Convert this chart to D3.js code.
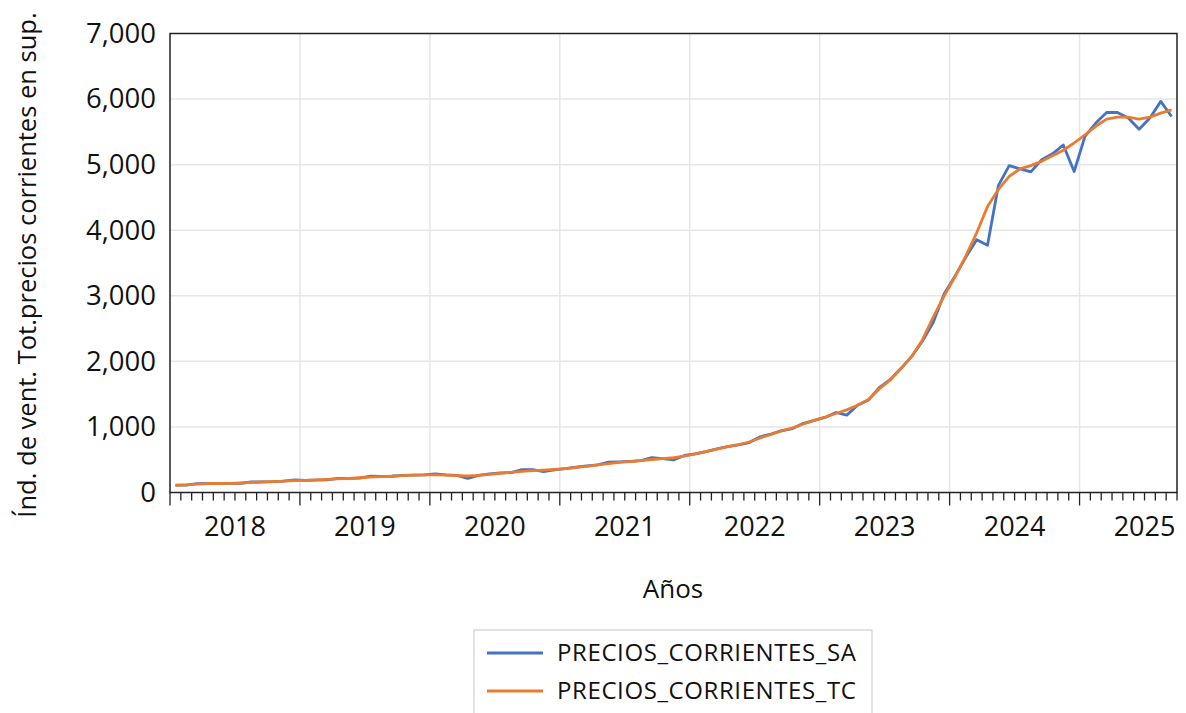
<!DOCTYPE html>
<html>
<head>
<meta charset="utf-8">
<script src="https://cdn.jsdelivr.net/npm/d3@7"></script>
<style>
  html, body { margin: 0; padding: 0; background: #fff; }
  svg { display: block; font-family: "Open Sans", "Noto Sans", sans-serif; }
</style>
</head>
<body>
<svg id="chart" width="1186" height="713"></svg>
<script>
// Monthly observations 2018M01 .. 2025M09
const startYear = 2018;
const startMonth = 1;
const seriesNames = ["PRECIOS_CORRIENTES_SA", "PRECIOS_CORRIENTES_TC"];
const seriesSA = [
  112, 113, 135, 136, 137, 138, 140, 160, 162, 165, 174, 192,
  184, 188, 192, 214, 215, 218, 250, 246, 248, 262, 266, 268,
  282, 268, 262, 216, 262, 285, 298, 303, 348, 350, 318, 345,
  365, 385, 405, 420, 462, 468, 475, 485, 532, 515, 496, 565,
  590, 625, 665, 700, 728, 762, 850, 890, 945, 975, 1055, 1100,
  1145, 1220, 1180, 1330, 1410, 1600, 1720, 1890, 2075, 2310, 2600, 3030,
  3300, 3590, 3855, 3770, 4680, 4985, 4935, 4890, 5075, 5165, 5300, 4895,
  5430, 5635, 5795, 5795, 5710, 5540, 5710, 5965, 5735
];
const seriesTC = [
  110, 115, 128, 135, 137, 139, 145, 153, 160, 166, 174, 180,
  186, 192, 200, 208, 215, 225, 235, 243, 250, 258, 264, 268,
  270, 266, 258, 252, 262, 278, 293, 308, 322, 335, 342, 352,
  365, 382, 400, 420, 440, 458, 472, 487, 503, 518, 530, 555,
  590, 625, 660, 700, 730, 770, 832, 885, 938, 985, 1045, 1100,
  1150, 1205, 1260, 1330, 1420, 1580, 1715, 1890, 2075, 2330, 2680, 3000,
  3290, 3610, 3960, 4360, 4620, 4820, 4935, 4985, 5050, 5135, 5220, 5330,
  5455, 5585, 5695, 5725, 5725, 5695, 5725, 5785, 5835
];
const yTicks = [0, 1000, 2000, 3000, 4000, 5000, 6000, 7000];
const yearLabels = ["2018", "2019", "2020", "2021", "2022", "2023", "2024", "2025"];
const colors = ["#4472c4", "#e97c30"];
const yTitle = "Índ. de vent. Tot.precios corrientes en sup.";
const xTitle = "Años";

(function () {
const n = seriesSA.length;
const svg = d3.select("#chart");
const pL = 170, pR = 1177, pT = 33.5, pB = 492.5;

// x scale in "month index" units: period i spans [i, i+1], observation at its centre
const x = d3.scaleLinear().domain([0, n]).range([pL, pR]);
const y = d3.scaleLinear().domain([0, 7000]).range([pB, pT]);

// gridlines
const grid = svg.append("g");
grid.selectAll("line.h").data(yTicks.slice(1, -1)).join("line")
  .attr("x1", pL).attr("x2", pR)
  .attr("y1", d => y(d)).attr("y2", d => y(d))
  .attr("stroke", "#e6e6e6").attr("stroke-width", 1.5);
const yearStarts = d3.range(1, yearLabels.length).map(k => k * 12);
grid.selectAll("line.v").data(yearStarts).join("line")
  .attr("x1", d => x(d)).attr("x2", d => x(d))
  .attr("y1", pT).attr("y2", pB)
  .attr("stroke", "#e6e6e6").attr("stroke-width", 1.5);

// lines
const idx = d3.range(n);
const lineGen = vals => d3.line().x(i => x(i + 0.5)).y(i => y(vals[i]))(idx);
[seriesSA, seriesTC].forEach((vals, k) => {
  svg.append("path").attr("d", lineGen(vals))
    .attr("fill", "none").attr("stroke", colors[k])
    .attr("stroke-width", 2.8).attr("stroke-linejoin", "round");
});

// frame
svg.append("rect").attr("x", pL).attr("y", pT)
  .attr("width", pR - pL).attr("height", pB - pT)
  .attr("fill", "none").attr("stroke", "#222").attr("stroke-width", 1.5);

// x axis ticks (monthly minor, yearly major)
const xAxisG = svg.append("g").attr("transform", `translate(0,${pB})`);
const monthTicks = d3.range(0, n + 1);
xAxisG.selectAll("line").data(monthTicks).join("line")
  .attr("x1", d => x(d)).attr("x2", d => x(d))
  .attr("y1", 0).attr("y2", d => (d % 12 === 0 ? 13 : 8))
  .attr("stroke", "#222").attr("stroke-width", 1.3);
xAxisG.selectAll("text").data(yearLabels).join("text")
  .attr("x", (d, k) => x(k * 12 + 6))
  .attr("y", 43)
  .attr("text-anchor", "middle")
  .attr("font-size", 27).attr("fill", "#111")
  .text(d => d);

// y axis labels
const yAxis = d3.axisLeft(y).tickValues(yTicks).tickSize(0).tickPadding(14)
  .tickFormat(d3.format(","));
const yAxisG = svg.append("g").attr("transform", `translate(${pL},0)`).call(yAxis);
yAxisG.select(".domain").remove();
yAxisG.selectAll("text").attr("font-size", 27.5).attr("fill", "#111")
  .attr("font-family", "Open Sans, Noto Sans, sans-serif");

// titles
svg.append("text").attr("transform", "translate(36,265) rotate(-90)")
  .attr("text-anchor", "middle").attr("font-size", 25.5).attr("fill", "#111")
  .text(yTitle);
svg.append("text").attr("x", 673).attr("y", 598)
  .attr("text-anchor", "middle").attr("font-size", 26).attr("fill", "#111")
  .text(xTitle);

// legend
const lg = svg.append("g");
lg.append("rect").attr("x", 474).attr("y", 630).attr("width", 398).attr("height", 90)
  .attr("fill", "#fff").attr("stroke", "#d9d9d9").attr("stroke-width", 1.5);
seriesNames.forEach((name, k) => {
  const yy = 653 + k * 38;
  lg.append("line").attr("x1", 487).attr("x2", 543).attr("y1", yy).attr("y2", yy)
    .attr("stroke", colors[k]).attr("stroke-width", 2.8);
  lg.append("text").attr("x", 557).attr("y", yy + 8)
    .attr("font-size", 24).attr("letter-spacing", 0.6)
    .attr("fill", "#111").text(name);
});
})();
</script>
</body>
</html>
